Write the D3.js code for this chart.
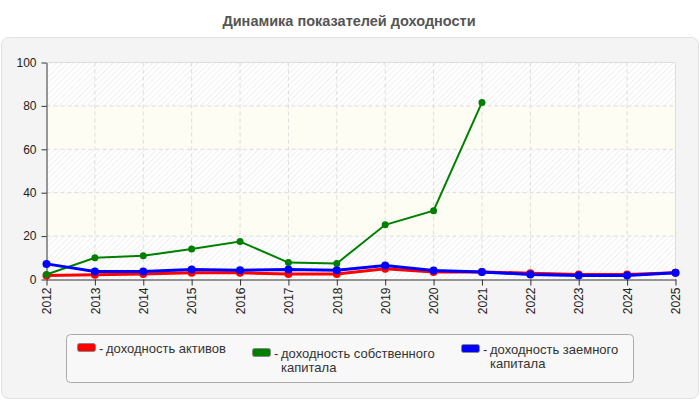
<!DOCTYPE html>
<html lang="ru">
<head>
<meta charset="UTF-8">
<title>Динамика показателей доходности</title>
<style>
  body { margin: 0; background: #fff; }
  svg text { font-family: Arial, "Liberation Sans", sans-serif; }
  .title { font-size: 14.5px; font-weight: bold; fill: #555; }
  .axis path, .axis line { stroke: #333; }
  .axis text { font-size: 12px; fill: #222; }
  .grid line { stroke: #dcdcdc; stroke-dasharray: 4,3; }
  .legend-text { font-size: 13px; fill: #333; }
</style>
</head>
<body>
<div id="chart"></div>
<script src="https://cdnjs.cloudflare.com/ajax/libs/d3/7.8.5/d3.min.js"></script>
<script>
var years = [2012, 2013, 2014, 2015, 2016, 2017, 2018, 2019, 2020, 2021, 2022, 2023, 2024, 2025];
var assetsReturn   = [1.8, 2.2, 2.5, 3.1, 3.1, 2.5, 2.5, 4.9, 3.4, 3.5, 2.9, 2.3, 2.3, 3.1];
var equityReturn   = [2.3, 10, 10.9, 14.1, 17.5, 7.8, 7.4, 25.2, 31.7, 81.6, null, null, null, null];
var borrowedReturn = [7.2, 3.7, 3.7, 4.6, 4.3, 4.6, 4.3, 6.5, 4.1, 3.5, 2.3, 1.8, 1.8, 3.1];
var yTicks = [0, 20, 40, 60, 80, 100];
var seriesNames = ["доходность активов", "доходность собственного капитала", "доходность заемного капитала"];
var seriesColors = ["#ff0000", "#008000", "#0000ff"];

(function() {
  var W = 700, H = 400;
  var svg = d3.select("#chart").append("svg").attr("width", W).attr("height", H);

  svg.append("text").attr("class", "title")
    .attr("x", 349).attr("y", 26).attr("text-anchor", "middle")
    .text("Динамика показателей доходности");

  // outer panel
  svg.append("rect").attr("x", 1.5).attr("y", 37.5).attr("width", 697).attr("height", 361)
    .attr("rx", 7).attr("fill", "#f4f4f4").attr("stroke", "#e2e2e2");

  var x = d3.scalePoint().domain(years).range([46.5, 675.5]);
  var y = d3.scaleLinear().domain([0, 100]).range([279.5, 62.5]);

  // hatch pattern
  var defs = svg.append("defs");
  var pat = defs.append("pattern").attr("id", "hatch").attr("patternUnits", "userSpaceOnUse")
    .attr("width", 4).attr("height", 4).attr("patternTransform", "rotate(45)");
  pat.append("rect").attr("width", 4).attr("height", 4).attr("fill", "#ffffff");
  pat.append("line").attr("x1", 0).attr("y1", 0).attr("x2", 0).attr("y2", 4)
    .attr("stroke", "#ececec").attr("stroke-width", 1.5);

  var bands = d3.pairs(yTicks);
  svg.append("g").selectAll("rect").data(bands).join("rect")
    .attr("x", x(years[0])).attr("width", x(years[years.length - 1]) - x(years[0]))
    .attr("y", function(d) { return y(d[1]); })
    .attr("height", function(d) { return y(d[0]) - y(d[1]); })
    .attr("fill", function(d, i) { return i % 2 === 0 ? "url(#hatch)" : "#fdfdf4"; });

  // grid
  var grid = svg.append("g").attr("class", "grid");
  grid.selectAll("line.h").data(yTicks.slice(1, -1)).join("line").attr("class", "h")
    .attr("x1", x(years[0])).attr("x2", x(years[years.length - 1]))
    .attr("y1", function(d) { return y(d); }).attr("y2", function(d) { return y(d); });
  grid.selectAll("line.v").data(years.slice(1, -1)).join("line").attr("class", "v")
    .attr("x1", function(d) { return x(d); }).attr("x2", function(d) { return x(d); })
    .attr("y1", y(100)).attr("y2", y(0));
  svg.append("path")
    .attr("d", "M" + x(years[0]) + "," + y(100) + "H" + x(years[years.length - 1]) + "V" + y(0))
    .attr("fill", "none").attr("stroke", "#dddddd");

  // axes
  svg.append("g").attr("class", "axis").attr("transform", "translate(" + x(years[0]) + ",0)")
    .call(d3.axisLeft(y).tickValues(yTicks).tickSize(5).tickSizeOuter(0).tickPadding(5));
  var xa = svg.append("g").attr("class", "axis x").attr("transform", "translate(0," + y(0) + ")")
    .call(d3.axisBottom(x).tickSize(6).tickSizeOuter(0));
  xa.selectAll("text").attr("transform", "rotate(-90)").attr("text-anchor", "end")
    .attr("x", -8).attr("y", 0).attr("dy", "0.35em");

  // series
  var allSeries = [assetsReturn, equityReturn, borrowedReturn];
  var widths = [3, 2, 3], radii = [4, 3.5, 4];
  allSeries.forEach(function(vals, si) {
    var pts = years.map(function(yr, i) { return { year: yr, v: vals[i] }; })
      .filter(function(d) { return d.v !== null; });
    var line = d3.line().x(function(d) { return x(d.year); }).y(function(d) { return y(d.v); });
    svg.append("path").datum(pts).attr("d", line)
      .attr("fill", "none").attr("stroke", seriesColors[si]).attr("stroke-width", widths[si]);
    svg.append("g").selectAll("circle").data(pts).join("circle")
      .attr("cx", function(d) { return x(d.year); })
      .attr("cy", function(d) { return y(d.v); })
      .attr("r", radii[si]).attr("fill", seriesColors[si]);
  });

  // legend
  svg.append("rect").attr("x", 66.5).attr("y", 334.5).attr("width", 567).attr("height", 48)
    .attr("rx", 4).attr("fill", "#f8f8f8").attr("stroke", "#aaaaaa");
  var legendX = [77, 252, 461], legendY = [343, 348, 344];
  var legendLines = [["доходность активов"], ["доходность собственного", "капитала"], ["доходность заемного", "капитала"]];
  seriesNames.forEach(function(name, i) {
    var g = svg.append("g").attr("transform", "translate(" + legendX[i] + "," + legendY[i] + ")");
    g.append("rect").attr("x", 0.5).attr("y", 0.5).attr("width", 18).attr("height", 8).attr("rx", 2)
      .attr("fill", seriesColors[i]).attr("stroke", "#888");
    g.append("text").attr("class", "legend-text").attr("x", 22).attr("y", 9.5).text("-");
    legendLines[i].forEach(function(l, k) {
      g.append("text").attr("class", "legend-text")
        .attr("x", 29).attr("y", 9.5 + k * 14).text(l);
    });
  });
})();
</script>
</body>
</html>
